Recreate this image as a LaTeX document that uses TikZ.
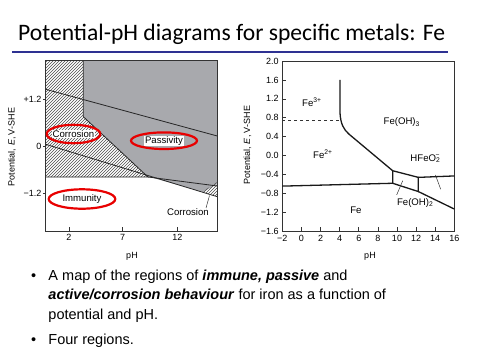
\documentclass[tikz,border=0pt]{standalone}
\usepackage{fontspec}
\setmainfont{Liberation Sans}
\newfontfamily\titlefont{Carlito}
\usetikzlibrary{patterns}
\definecolor{rulebl}{RGB}{46,49,146}
\definecolor{passgray}{RGB}{168,169,173}
\definecolor{ringred}{RGB}{232,0,0}
\tikzset{
	axis/.style={draw=black!80, line width=0.6pt},
	bound/.style={black!85, line width=0.8pt},
	phase/.style={black!90, line width=1.3pt},
	ticklbl/.style={font=\fontsize{9}{10}\selectfont, inner sep=1pt},
	region/.style={font=\fontsize{9.6}{11}\selectfont, inner sep=1pt},
	tag/.style={region, fill=white, inner sep=0.6pt},
	ring/.style={draw=ringred, line width=2.2pt},
	hatch/.style={pattern=north east lines, pattern color=black!70},
	bodytext/.style={font=\fontsize{14.5}{17}\selectfont, anchor=base west, inner sep=0pt}
}
\begin{document}
\begin{tikzpicture}[x=1pt, y=-1pt]
	\useasboundingbox (0,0) rectangle (480,360);
	\node[font=\titlefont\fontsize{23.6}{28}\selectfont, anchor=west, inner sep=0pt] (title) at (18,34) {Potential-pH diagrams for specific metals: Fe};
	\draw[rulebl, line width=2pt] (12.3,51.7) -- (447.7,51.7);

	\fill[passgray] (83.3,60) -- (217.3,60) -- (217.3,184) -- (203,192) -- (148,176.5) -- (83.3,116.7) -- cycle;
	\fill[hatch] (45.7,60) -- (83.3,60) -- (83.3,116.7) -- (148,177) -- (45.7,177) -- cycle;
	\fill[hatch] (202,192) -- (217.3,182) -- (217.3,196.7) -- cycle;
	\draw[bound] (83.3,60) -- (83.3,116.7) -- (148,177) -- (45.7,177);
	\draw[bound] (148,177) -- (217.3,186);
	\draw[bound] (45.7,89.3) -- (217.3,136);
	\draw[bound] (45.7,144.3) -- (217.3,196.7);
	\draw[axis] (45.7,60) rectangle (217.3,231);
	\foreach \y/\t [count=\i] in {99.3/+1.2, 146/0, 193.3/−1.2} {
		\draw[axis] (45.7,\y) -- (42.7,\y);
		\node[ticklbl, anchor=east] (ly\i) at (42.5,\y) {\t};
	}
	\foreach \x/\t [count=\i] in {69/2, 122.7/7, 177.5/12} {
		\draw[axis] (\x,231) -- (\x,227);
		\node[ticklbl, anchor=north] (lx\i) at (\x,233.5) {\t};
	}
	\node[ticklbl, rotate=90] (ltitle) at (12,147) {Potential, \textit{E}, V-SHE};
	\node[ticklbl] (lph) at (132,256.7) {pH};
	\node[tag] (corrA) at (73.5,134) {Corrosion};
	\node[tag] (pass) at (164,140.7) {Passivity};
	\node[tag] (immu) at (82,199) {Immunity};
	\node[region] (corrB) at (188,211.7) {Corrosion};
	\coordinate (corrtip) at (209.5,195.5);
	\draw[black!80, line width=0.5pt] ([xshift=-4pt, yshift=-1pt]corrB.north east) -- (corrtip);
	\draw[ring] (corrA.center) ellipse [x radius=26.8pt, y radius=9.2pt];
	\draw[ring] (pass.center) ellipse [x radius=33pt, y radius=8.3pt];
	\draw[ring] (immu.center) ellipse [x radius=33.3pt, y radius=9.7pt];

	\begin{scope}[shift={(301.4,155.6)}, x=9.56pt, y=47.3pt]
		\draw[axis] (-2,-1.6) rectangle (16,2.0);
		\foreach \v/\t [count=\i] in {2.0/2.0, 1.6/1.6, 1.2/1.2, 0.8/0.8, 0.4/0.4, 0.0/0.0, -0.4/−0.4, -0.8/−0.8, -1.2/−1.2, -1.6/−1.6} {
			\draw[axis] (-2,\v) -- ++(0.42,0);
			\node[ticklbl, anchor=east] (ry\i) at (-2.25,\v) {\t};
		}
		\foreach \p/\t [count=\i] in {-2/−2, 0/0, 2/2, 4/4, 6/6, 8/8, 10/10, 12/12, 14/14, 16/16} {
			\draw[axis] (\p,-1.6) -- ++(0,0.085);
			\node[ticklbl, anchor=north] (rx\i) at (\p,-1.65) {\t};
		}
		\draw[axis, dashed] (-2,0.75) -- (4.04,0.75);
		\draw[phase] (4.04,1.6) -- (4.04,0.9) .. controls (4.1,0.68) and (4.4,0.55) .. (5.0,0.45) -- (9.55,-0.32);
		\draw[phase] (-2,-0.645) -- (9.55,-0.585);
		\draw[phase] (9.55,-0.32) -- (9.55,-0.585) -- (12.23,-0.76) -- (12.23,-0.46) -- cycle;
		\draw[phase] (12.23,-0.46) -- (16,-0.43);
		\draw[phase] (12.23,-0.76) -- (16,-1.13);
		\node[region] (fe3) at (1.1,1.13) {Fe\textsuperscript{3+}};
		\node[region] (fe2) at (2.25,0.03) {Fe\textsuperscript{2+}};
		\node[region] (feoh3) at (10.5,0.7) {Fe(OH)\textsubscript{3}};
		\node[region] (hfeo) at (13.0,-0.06) {HFeO\textsubscript{2}\kern-0.5em\textsuperscript{−}\kern0.1em};
		\node[region] (feoh2) at (11.9,-1.0) {Fe(OH)\textsubscript{2}};
		\node[region] (fe) at (5.7,-1.15) {Fe};
		\coordinate (boxtip) at (10.6,-0.53);
		\coordinate (hfeotip) at (14.57,-0.71);
		\draw[black!80, line width=0.5pt] (9.97,-0.83) -- (boxtip);
		\draw[black!80, line width=0.5pt] (14.02,-0.41) -- (hfeotip);
	\end{scope}
	\node[ticklbl, rotate=90] (rtitle) at (247.4,145) {Potential, \textit{E}, V-SHE};
	\node[ticklbl] (rph) at (370,256.7) {pH};

	\node[bodytext] (dot1) at (31,280) {•};
	\node[bodytext] (line1) at (48.3,280) {A map of the regions of \textbf{\textit{immune, passive}} and};
	\node[bodytext] (line2) at (48.3,299.5) {\textbf{\textit{active/corrosion behaviour}} for iron as a function of};
	\node[bodytext] (line3) at (48.3,319.3) {potential and pH.};
	\node[bodytext] (dot2) at (31,344.3) {•};
	\node[bodytext] (line4) at (48.3,344.3) {Four regions.};
\end{tikzpicture}
\end{document}
